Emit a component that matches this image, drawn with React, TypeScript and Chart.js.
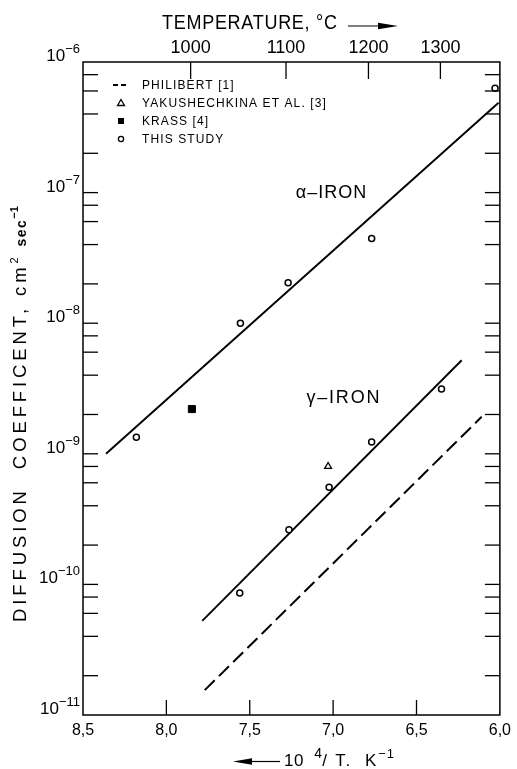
import React, { useEffect, useRef } from 'react';
import { Chart, registerables } from 'chart.js';

Chart.register(...registerables);

// ---------- data ----------
const legendLabels = ['PHILIBERT [1]', 'YAKUSHECHKINA ET AL. [3]', 'KRASS [4]', 'THIS STUDY'];
const xTickValues = [8.5, 8.0, 7.5, 7.0, 6.5, 6.0];
const tempTicksC = [1000, 1100, 1200, 1300];
const yDecades = [-11, -10, -9, -8, -7, -6];
const yMinorMultipliers = [2, 4, 6, 8];

const philibertX = [7.77, 6.109];
const philibertY = [1.55e-11, 1.92e-9];
const yakushechkinaX = [7.03];
const yakushechkinaY = [8.0e-10];
const krassX = [7.847];
const krassY = [2.2e-9];
const studyAlphaX = [8.18, 7.556, 7.27, 6.769, 6.029];
const studyAlphaY = [1.34e-9, 1.0e-8, 2.04e-8, 4.45e-8, 6.3e-7];
const studyGammaX = [7.56, 7.265, 7.024, 6.769, 6.35];
const studyGammaY = [8.6e-11, 2.62e-10, 5.54e-10, 1.23e-9, 3.13e-9];
const alphaFitX = [8.362, 6.008];
const alphaFitY = [1.0e-9, 4.87e-7];
const gammaFitX = [7.785, 6.229];
const gammaFitY = [5.25e-11, 5.2e-9];

const FONT = '"Liberation Sans", Arial, sans-serif';

const pts = (xs: number[], ys: number[]) => xs.map((x, i) => ({ x, y: ys[i] }));

type Part = { t: string; size: number; bold?: boolean; dy?: number; ls?: number };

function drawParts(ctx: CanvasRenderingContext2D, x: number, y: number, parts: Part[]) {
  let cx = x;
  for (const p of parts) {
    ctx.font = `${p.bold ? 'bold ' : ''}${p.size}px ${FONT}`;
    (ctx as any).letterSpacing = `${p.ls ?? 0}px`;
    ctx.fillText(p.t, cx, y + (p.dy ?? 0));
    cx += ctx.measureText(p.t).width;
  }
  (ctx as any).letterSpacing = '0px';
  return cx - x;
}

const framePlugin = {
  id: 'frameTicks',
  afterDraw(chart: any) {
    const { ctx, chartArea } = chart;
    const { left, right, top, bottom } = chartArea;
    const sx = chart.scales.x;
    const sxt = chart.scales.xTop;
    const sy = chart.scales.y;
    ctx.save();
    ctx.strokeStyle = '#000';
    ctx.lineWidth = 1.5;
    ctx.strokeRect(left, top, right - left, bottom - top);
    ctx.lineWidth = 1.3;
    const line = (a: number, b: number, c: number, d: number) => {
      ctx.beginPath();
      ctx.moveTo(a, b);
      ctx.lineTo(c, d);
      ctx.stroke();
    };
    for (const t of sy.ticks) {
      const py = sy.getPixelForValue(t.value);
      if (py <= top + 1 || py >= bottom - 1) continue;
      line(left, py, left + 15, py);
      line(right - 15, py, right, py);
    }
    for (const t of sx.ticks) {
      const px = sx.getPixelForValue(t.value);
      if (px <= left + 1 || px >= right - 1) continue;
      line(px, bottom, px, bottom - 15);
    }
    for (const t of sxt.ticks) {
      const px = sxt.getPixelForValue(t.value);
      line(px, top, px, top + 17);
    }
    // y tick labels 10^n
    ctx.fillStyle = '#000';
    ctx.textBaseline = 'alphabetic';
    ctx.textAlign = 'left';
    for (const d of yDecades) {
      const py = sy.getPixelForValue(Math.pow(10, d));
      ctx.font = `17px ${FONT}`;
      const tenW = ctx.measureText('10').width;
      ctx.font = `13px ${FONT}`;
      const exp = String(d).replace('-', '\u2212');
      const expW = ctx.measureText(exp).width;
      const x0 = left - 2 - expW - tenW - 1;
      drawParts(ctx, x0, py - 1, [
        { t: '10', size: 17 },
        { t: exp, size: 13, dy: -8 },
      ]);
    }
    ctx.restore();
  },
};

const textPlugin = {
  id: 'texts',
  afterDraw(chart: any) {
    const { ctx } = chart;
    const sx = chart.scales.x;
    const sy = chart.scales.y;
    ctx.save();
    ctx.fillStyle = '#000';
    ctx.strokeStyle = '#000';
    ctx.textAlign = 'left';
    ctx.textBaseline = 'alphabetic';

    // top title
    ctx.save();
    ctx.translate(162, 29);
    ctx.scale(0.9, 1);
    drawParts(ctx, 0, 0, [{ t: 'TEMPERATURE, °C', size: 20, ls: 0.8 }]);
    ctx.restore();
    // arrow right
    ctx.lineWidth = 1.2;
    ctx.beginPath();
    ctx.moveTo(348, 26);
    ctx.lineTo(382, 26);
    ctx.stroke();
    ctx.beginPath();
    ctx.moveTo(398, 26);
    ctx.lineTo(378, 22.8);
    ctx.lineTo(378, 29.2);
    ctx.closePath();
    ctx.fill();

    // bottom title
    ctx.beginPath();
    ctx.moveTo(250, 761.5);
    ctx.lineTo(280, 761.5);
    ctx.stroke();
    ctx.beginPath();
    ctx.moveTo(233, 761.5);
    ctx.lineTo(252, 758.3);
    ctx.lineTo(252, 764.7);
    ctx.closePath();
    ctx.fill();
    drawParts(ctx, 284, 766, [
      { t: '10  ', size: 17, ls: 0.5 },
      { t: '4', size: 14, dy: -8 },
      { t: '/ T.  K', size: 17, ls: 1.8 },
      { t: '\u22121', size: 13, dy: -8, ls: 1 },
    ]);

    // y title
    ctx.save();
    ctx.translate(26, 622);
    ctx.rotate(-Math.PI / 2);
    drawParts(ctx, 0, 0, [
      { t: 'DIFFUSION  COEFFICENT, cm', size: 18.5, ls: 3.9 },
      { t: '2', size: 11, dy: -8 },
      { t: '  sec', size: 14, bold: true, ls: 1.5 },
      { t: '\u22121', size: 11, bold: true, dy: -8 },
    ]);
    ctx.restore();

    // legend
    const rows = [85, 103, 121, 139];
    const symX = 121;
    ctx.textBaseline = 'middle';
    for (let i = 0; i < legendLabels.length; i++) {
      drawParts(ctx, 142, rows[i] + 1, [{ t: legendLabels[i], size: 12, ls: 1.1 }]);
    }
    ctx.lineWidth = 1.8;
    ctx.setLineDash([5, 3]);
    ctx.beginPath();
    ctx.moveTo(113, rows[0]);
    ctx.lineTo(127, rows[0]);
    ctx.stroke();
    ctx.setLineDash([]);
    ctx.lineWidth = 1.3;
    ctx.beginPath();
    ctx.moveTo(symX, rows[1] - 3.5);
    ctx.lineTo(symX + 3.5, rows[1] + 2.5);
    ctx.lineTo(symX - 3.5, rows[1] + 2.5);
    ctx.closePath();
    ctx.stroke();
    ctx.fillRect(symX - 3, rows[2] - 3, 6, 6);
    ctx.beginPath();
    ctx.arc(symX, rows[3], 2.6, 0, Math.PI * 2);
    ctx.stroke();

    // annotations
    ctx.textBaseline = 'middle';
    drawParts(ctx, sx.getPixelForValue(7.224), sy.getPixelForValue(1.0e-7), [
      { t: 'α\u2013IRON', size: 18, ls: 1 },
    ]);
    drawParts(ctx, sx.getPixelForValue(7.16), sy.getPixelForValue(2.67e-9), [
      { t: 'γ\u2013IRON', size: 18, ls: 1.8 },
    ]);
    ctx.restore();
  },
};

export default function App() {
  const ref = useRef<HTMLCanvasElement>(null);
  useEffect(() => {
    const canvas = ref.current!;
    const tickFont = { family: FONT, size: 16 };
    const chart = new Chart(canvas, {
      type: 'scatter',
      data: {
        datasets: [
          {
            label: legendLabels[0],
            data: pts(philibertX, philibertY),
            showLine: true,
            borderColor: '#000',
            borderWidth: 2,
            borderDash: [14, 6],
            pointRadius: 0,
          },
          {
            label: legendLabels[1],
            data: pts(yakushechkinaX, yakushechkinaY),
            pointStyle: 'triangle',
            pointRadius: 4,
            borderWidth: 1.3,
            borderColor: '#000',
            backgroundColor: '#fff',
          },
          {
            label: legendLabels[2],
            data: pts(krassX, krassY),
            pointStyle: 'rect',
            pointRadius: 5,
            borderWidth: 1,
            borderColor: '#000',
            backgroundColor: '#000',
          },
          {
            label: legendLabels[3],
            data: pts(studyAlphaX, studyAlphaY).concat(pts(studyGammaX, studyGammaY)),
            pointStyle: 'circle',
            pointRadius: 3,
            borderWidth: 1.5,
            borderColor: '#000',
            backgroundColor: '#fff',
          },
          {
            label: 'α-IRON fit',
            data: pts(alphaFitX, alphaFitY),
            showLine: true,
            borderColor: '#000',
            borderWidth: 1.9,
            pointRadius: 0,
          },
          {
            label: 'γ-IRON fit',
            data: pts(gammaFitX, gammaFitY),
            showLine: true,
            borderColor: '#000',
            borderWidth: 1.9,
            pointRadius: 0,
          },
        ],
      },
      options: {
        responsive: false,
        animation: false,
        devicePixelRatio: 1,
        layout: { padding: { left: 0, right: 4, top: 0, bottom: 0 } },
        plugins: { legend: { display: false }, tooltip: { enabled: false } },
        scales: {
          x: {
            type: 'linear',
            position: 'bottom',
            reverse: true,
            min: 6,
            max: 8.5,
            afterBuildTicks: (s: any) => {
              s.ticks = xTickValues.map((v) => ({ value: v }));
            },
            ticks: {
              callback: (v: any) => Number(v).toFixed(1).replace('.', ','),
              color: '#000',
              font: tickFont,
              padding: 6,
              autoSkip: false,
              maxRotation: 0,
            },
            grid: { display: false, drawTicks: false },
            border: { display: false },
            afterFit: (s: any) => {
              s.height = 54;
            },
          },
          xTop: {
            type: 'linear',
            position: 'top',
            reverse: true,
            min: 6,
            max: 8.5,
            afterBuildTicks: (s: any) => {
              s.ticks = tempTicksC.map((t) => ({ value: 1e4 / (t + 273.15) }));
            },
            ticks: {
              callback: (v: any) => String(Math.round(1e4 / Number(v) - 273.15)),
              color: '#000',
              font: { family: FONT, size: 18 },
              padding: 3,
              autoSkip: false,
              maxRotation: 0,
            },
            grid: { display: false, drawTicks: false },
            border: { display: false },
            afterFit: (s: any) => {
              s.height = 62;
            },
          },
          y: {
            type: 'logarithmic',
            min: 1e-11,
            max: 1e-6,
            afterBuildTicks: (s: any) => {
              const ticks: { value: number }[] = [];
              for (const d of yDecades) {
                ticks.push({ value: Math.pow(10, d) });
                if (d < -6) for (const m of yMinorMultipliers) ticks.push({ value: m * Math.pow(10, d) });
              }
              s.ticks = ticks;
            },
            ticks: { display: false },
            grid: { display: false, drawTicks: false },
            border: { display: false },
            afterFit: (s: any) => {
              s.width = 83;
            },
          },
        },
      },
      plugins: [framePlugin, textPlugin],
    } as any);
    return () => chart.destroy();
  }, []);
  return (
    <div style={{ position: 'fixed', left: 0, top: 0, width: 517, height: 769, background: '#fff' }}>
      <canvas ref={ref} width={517} height={769} style={{ width: 517, height: 769, display: 'block' }} />
    </div>
  );
}
